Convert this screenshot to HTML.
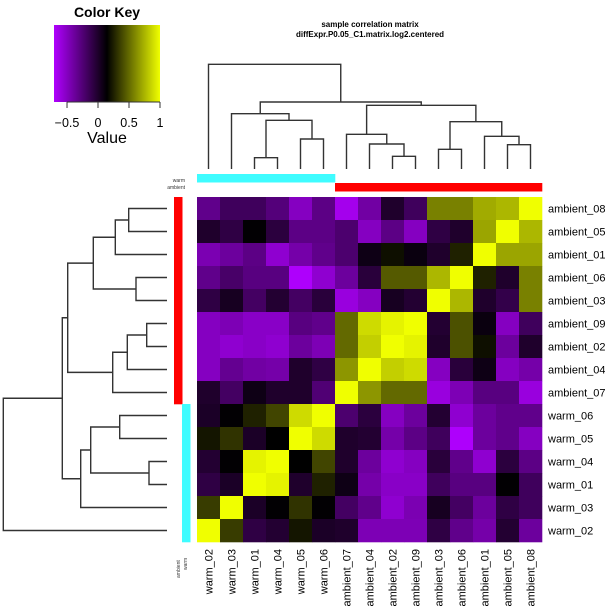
<!DOCTYPE html>
<html><head><meta charset="utf-8"><style>
body{margin:0;background:#fff;}
svg{display:block;font-family:"Liberation Sans",sans-serif;}
</style></head><body>
<svg id="chart" width="605" height="614" viewBox="0 0 605 614" xmlns="http://www.w3.org/2000/svg">
<defs><linearGradient id="kg" x1="0" x2="1" y1="0" y2="0">
<stop offset="0" stop-color="#b000ff"/><stop offset="0.5" stop-color="#000"/><stop offset="1" stop-color="#f0ff00"/></linearGradient></defs>
<g>
<text x="107" y="17" text-anchor="middle" font-size="14" font-weight="bold">Color Key</text>
<rect x="54" y="25" width="106" height="77" fill="url(#kg)"/>
<g id="keyticks"></g>
<text x="107" y="143" text-anchor="middle" font-size="16">Value</text>
</g>
<g font-size="8" font-weight="bold" text-anchor="middle">
<text x="370" y="27">sample correlation matrix</text>
<text x="370" y="37">diffExpr.P0.05_C1.matrix.log2.centered</text>
</g>
<g id="cells"></g>
<g id="dends" stroke="#333" stroke-width="1.4" fill="none"></g>
<g id="bars"></g>
<g id="labels" font-size="11"></g>
<g font-size="5" fill="#333">
<text x="185" y="182" text-anchor="end">warm</text>
<text x="185" y="189" text-anchor="end">ambient</text>
<text transform="translate(180,578) rotate(-90)">ambient</text>
<text transform="translate(187,570) rotate(-90)">warm</text>
</g>
</svg>
<script>
const rowLabels=["ambient_08","ambient_05","ambient_01","ambient_06","ambient_03","ambient_09","ambient_02","ambient_04","ambient_07","warm_06","warm_05","warm_04","warm_01","warm_03","warm_02"];
const colLabels=["warm_02","warm_03","warm_01","warm_04","warm_05","warm_06","ambient_07","ambient_04","ambient_02","ambient_09","ambient_03","ambient_06","ambient_01","ambient_05","ambient_08"];
const rowGroups=["ambient","ambient","ambient","ambient","ambient","ambient","ambient","ambient","ambient","warm","warm","warm","warm","warm","warm"];
const colGroups=["warm","warm","warm","warm","warm","warm","ambient","ambient","ambient","ambient","ambient","ambient","ambient","ambient","ambient"];
const keyTicks=[-0.5,0,0.5,1];
const values=[
[-0.32,-0.16,-0.16,-0.26,-0.5,-0.3,-0.65,-0.4,0.0,-0.16,0.58,0.58,0.72,0.76,1],
[0.0,-0.08,0.14,-0.06,-0.3,-0.3,-0.22,-0.5,-0.3,-0.5,-0.08,0.0,0.7,1,0.76],
[-0.45,-0.38,-0.3,-0.55,-0.42,-0.32,-0.22,0.08,0.2,0.1,0.0,0.26,1,0.7,0.7],
[-0.32,-0.2,-0.28,-0.28,-0.7,-0.55,-0.38,-0.05,0.45,0.45,0.76,1,0.26,0.0,0.58],
[-0.08,0.04,-0.18,-0.02,-0.18,-0.05,-0.6,-0.5,0.04,-0.02,1,0.76,0.0,-0.1,0.58],
[-0.5,-0.46,-0.52,-0.52,-0.28,-0.32,0.5,0.88,0.96,1,-0.02,0.42,0.1,-0.5,-0.16],
[-0.5,-0.55,-0.52,-0.55,-0.38,-0.46,0.5,0.84,1,0.96,0.0,0.42,0.2,-0.38,0.0],
[-0.5,-0.34,-0.4,-0.42,0.0,-0.08,0.65,1,0.84,0.88,-0.5,-0.05,0.08,-0.5,-0.42],
[0.0,-0.18,0.08,0.0,0.0,-0.24,1,0.65,0.5,0.5,-0.6,-0.46,-0.28,-0.28,-0.6],
[0.02,0.14,0.26,0.38,0.88,1,-0.22,-0.06,-0.5,-0.38,-0.02,-0.55,-0.38,-0.32,-0.32],
[0.22,0.32,0.02,0.15,1,0.88,0.0,-0.02,-0.42,-0.3,-0.16,-0.7,-0.38,-0.32,-0.5],
[-0.02,0.14,0.96,1,0.15,0.38,0.0,-0.38,-0.55,-0.5,-0.05,-0.32,-0.55,-0.06,-0.3],
[-0.08,0.02,1,0.96,0.0,0.26,0.08,-0.42,-0.52,-0.52,-0.16,-0.28,-0.28,0.14,-0.16],
[0.35,1,0.02,0.14,0.32,0.14,-0.18,-0.32,-0.55,-0.45,0.04,-0.18,-0.38,-0.08,-0.16],
[1,0.35,-0.08,-0.02,0.22,0.02,0.0,-0.46,-0.46,-0.46,-0.08,-0.32,-0.42,-0.02,-0.38]];
const colMerges=[[ "L2","L3",157.7],["L4","L5",139],["M0","M1",120.3],["L1","M2",113.7],
["L8","L9",156.3],["L7","M4",144],["L6","M5",134.3],["L10","L11",149.3],["L13","L14",144.7],["L12","M8",136.3],["M7","M9",121.7],["M6","M10",105.3],["M3","M11",102],["L0","M12",64.3]];
const rowMerges=[["L0","L1",128.7],["M0","L2",115.3],["L3","L4",136],["M1","M2",93.3],["L5","L6",146.7],["M4","L7",127.3],["M5","L8",112.7],["M3","M6",67.7],
["L9","L10",119.7],["L11","L12",149],["M8","M9",90.7],["M10","L13",80.7],["M7","M11",62.3],["M12","L14",3.3]];

const NS="http://www.w3.org/2000/svg";
const X0=197,Y0=197,CW=23,CH=23;
const vmin=-0.71,vmax=1,vmid=0.15;
const kx=v=>54+(v-vmin)/(vmax-vmin)*106;
const xc=i=>X0+CW*i, yc=i=>Y0+CH*i;
function col(v){
  if(v<vmid){const t=Math.min(1,(vmid-v)/(vmid-vmin));return `rgb(${Math.round(176*t)},0,${Math.round(255*t)})`;}
  const t=Math.min(1,(v-vmid)/(vmax-vmid));return `rgb(${Math.round(240*t)},${Math.round(255*t)},0)`;
}
function mk(tag,attrs,parent){const e=document.createElementNS(NS,tag);for(const k in attrs)e.setAttribute(k,attrs[k]);parent.appendChild(e);return e;}
const cells=document.getElementById('cells');
values.forEach((row,r)=>row.forEach((v,c)=>{
  const e=mk('rect',{x:xc(c),y:yc(r),width:CW+0.3,height:CH+0.3,fill:col(v)},cells);
  
  
}));
const kt=document.getElementById('keyticks');
keyTicks.forEach(t=>{
  const l=mk('line',{x1:kx(t),x2:kx(t),y1:102,y2:108,stroke:'#333','stroke-width':1},kt);
  
  
  const tx=mk('text',{x:kx(t),y:127,'text-anchor':'middle','font-size':12.5},kt);
  tx.textContent=t===0?'0':(t<0?'\u2212'+Math.abs(t):String(t));
  
  
});
mk('line',{x1:kx(-0.5),x2:kx(1),y1:102,y2:102,stroke:'#333','stroke-width':1},kt);
const dg=document.getElementById('dends');
function drawDend(merges,leafPos,leafBase,horizontal,name){
  const pos=[],ht=[];
  const get=id=>id[0]==='L'?[leafPos(+id.slice(1)),leafBase]:[pos[+id.slice(1)],ht[+id.slice(1)]];
  merges.forEach((m,i)=>{
    const a=get(m[0]),b=get(m[1]),h=m[2];
    pos[i]=(a[0]+b[0])/2;ht[i]=h;
    const d=horizontal?`M${a[1]},${a[0]}H${h}V${b[0]}H${b[1]}`:`M${a[0]},${a[1]}V${h}H${b[0]}V${b[1]}`;
    const p=mk('path',{d},dg);
    
    
  });
}
drawDend(colMerges,i=>xc(i)+CW/2,169,false,'column-dendrogram');
drawDend(rowMerges,i=>yc(i)+CH/2,167,true,'row-dendrogram');
const bars=document.getElementById('bars');
const gcol={warm:'#3ffcff',ambient:'#ff0000'};
colGroups.forEach((g,i)=>{
  const e=mk('rect',{x:xc(i),y:g==='warm'?174:183,width:CW+0.3,height:8.5,fill:gcol[g]},bars);
  
  
});
rowGroups.forEach((g,i)=>{
  const e=mk('rect',{x:g==='warm'?182:174,y:yc(i),width:8.5,height:CH+0.3,fill:gcol[g]},bars);
  
  
});
const lab=document.getElementById('labels');
rowLabels.forEach((s,i)=>{
  const t=mk('text',{x:548,y:yc(i)+CH/2+4},lab);t.textContent=s;
  
  
});
colLabels.forEach((s,i)=>{
  const cx=xc(i)+CW/2+4;
  const t=mk('text',{transform:`translate(${cx},549) rotate(-90)`,'text-anchor':'end'},lab);t.textContent=s;
  
  
});
</script>
</body></html>
